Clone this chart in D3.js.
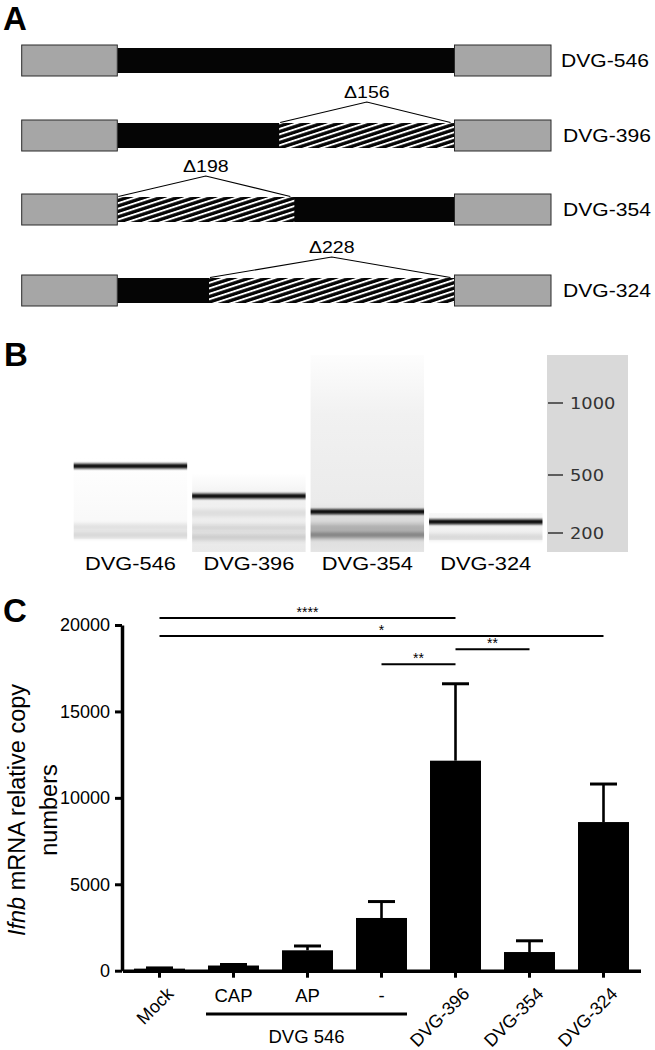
<!DOCTYPE html>
<html>
<head>
<meta charset="utf-8">
<script src="https://cdn.jsdelivr.net/npm/d3@7"></script>
<style>
html, body { margin: 0; padding: 0; background: #fff; }
svg { display: block; font-family: "Liberation Sans", Arial, sans-serif; }
</style>
</head>
<body>
<div id="fig"></div>
<script>
// panel A - DVG schematics
var dvgNames = ["DVG-546", "DVG-396", "DVG-354", "DVG-324"];
var delStart = [null, 0.48, 0, 0.272];     // deletion start, fraction of the insert
var delEnd = [null, 1, 0.525, 1];
var delLabels = ["", "\u0394156", "\u0394198", "\u0394228"];

// panel B - gel
var laneNames = ["DVG-546", "DVG-396", "DVG-354", "DVG-324"];
var ladderBp = [1000, 500, 200];
var mainBandBp = [562, 391, 310, 258];
var smearTopBp = [618, 514, 1333, 303];
var smearBottomBp = [169, 102, 102, 164];
var faintBandBp = [[231, 190], [303, 226, 179], [228, 190], [179]];
var faintBandAlpha = [[0.10, 0.14], [0.08, 0.10, 0.14], [0.22, 0.45], [0.10]];

// panel C - Ifnb
var groups = ["Mock", "CAP", "AP", "-", "DVG-396", "DVG-354", "DVG-324"];
var means = [120, 300, 1180, 3050, 12150, 1080, 8600];
var sems = [40, 60, 250, 950, 4450, 650, 2200];
var yTicks = [0, 5000, 10000, 15000, 20000];
var sigPairs = [["Mock", "DVG-396"], ["Mock", "DVG-324"], ["DVG-396", "DVG-354"], ["-", "DVG-396"]];
var sigLabels = ["****", "*", "**", "**"];
var sigLevel = [20400, 19370, 18600, 17730];
var rotated = ["Mock", "DVG-396", "DVG-354", "DVG-324"];
var dvg546Group = ["CAP", "AP", "-"];

var svg = d3.select("#fig").append("svg").attr("width", 655).attr("height", 1050);
var defs = svg.append("defs");

// text stretched sideways like in panels A and B
function wideText(sel, x, y, str, size, anchor, sx) {
    return sel.append("text")
        .attr("transform", "translate(" + x + "," + y + ") scale(" + (sx || 1.2) + ",1)")
        .attr("text-anchor", anchor || "start")
        .style("font-size", size + "px")
        .text(str);
}

function panelLetter(t, x, y) {
    svg.append("text").attr("x", x).attr("y", y)
        .style("font-size", "33px").style("font-weight", "bold").text(t);
}

panelLetter("A", 3, 30);
panelLetter("B", 4, 366);
panelLetter("C", 3, 622);

// ---------- A ----------
var pat = defs.append("pattern").attr("id", "hatch")
    .attr("patternUnits", "userSpaceOnUse")
    .attr("width", 12).attr("height", 5.2)
    .attr("patternTransform", "rotate(-18)");
pat.append("rect").attr("width", 12).attr("height", 5.2).attr("fill", "#050505");
pat.append("rect").attr("width", 12).attr("height", 1.9).attr("fill", "#fff");

var rowY = d3.scaleOrdinal().domain(dvgNames).range([45, 120, 194, 275]);
var insertX = d3.scaleLinear().domain([0, 1]).range([117.3, 454.5]);
var gA = svg.append("g");

dvgNames.forEach(function(name, i) {
    var top = rowY(name);
    var row = gA.append("g");
    row.append("rect").attr("x", insertX(0)).attr("y", top + 3)
        .attr("width", insertX(1) - insertX(0)).attr("height", 25).attr("fill", "#050505");
    if (delStart[i] !== null) {
        row.append("rect").attr("x", insertX(delStart[i])).attr("y", top + 3)
            .attr("width", insertX(delEnd[i]) - insertX(delStart[i])).attr("height", 25)
            .attr("fill", "url(#hatch)");
        var x0 = insertX(delStart[i]), x1 = insertX(delEnd[i]), mid = (x0 + x1) / 2;
        row.append("path")
            .attr("d", "M" + (x0 + 1) + "," + (top + 2.5) + "L" + mid + "," + (top - 18) + "L" + (x1 - 4) + "," + (top + 2.5))
            .attr("fill", "none").attr("stroke", "#000").attr("stroke-width", 1.2);
        wideText(row, mid, top - 22, delLabels[i], 17, "middle", 1.15);
    }
    [[21.7, insertX(0)], [insertX(1), 551]].forEach(function(b) {
        row.append("rect").attr("x", b[0]).attr("y", top).attr("width", b[1] - b[0]).attr("height", 31)
            .attr("fill", "#a6a6a6").attr("stroke", "#2a2a2a").attr("stroke-width", 1);
    });
    wideText(row, i === 0 ? 561 : 563, top + 22, name, 18.5, "start", 1.14);
});

// ---------- B ----------
var gelY = d3.scaleLinear().domain([1000, 500, 200]).range([403, 475, 533]);
var laneX = d3.scaleBand().domain(laneNames).range([73.7, 542.5]).paddingInner(0.042);
var gB = svg.append("g");

var blur = defs.append("filter").attr("id", "soft").attr("x", "-5%").attr("y", "-200%")
    .attr("width", "110%").attr("height", "500%");
blur.append("feGaussianBlur").attr("stdDeviation", "0 1.1");
var blur2 = defs.append("filter").attr("id", "softer").attr("x", "-5%").attr("y", "-200%")
    .attr("width", "110%").attr("height", "500%");
blur2.append("feGaussianBlur").attr("stdDeviation", "0 2");

var smearStops = [
    [["0", "#ffffff"], ["1", "#f7f7f7"]],
    [["0", "#ffffff"], ["0.3", "#f1f1f1"], ["1", "#e9e9e9"]],
    [["0", "#fdfdfd"], ["0.3", "#f1f1f1"], ["0.75", "#ebebeb"], ["0.85", "#d8d8d8"], ["1", "#e4e4e4"]],
    [["0", "#f7f7f7"], ["1", "#efefef"]]
];
smearStops.forEach(function(stops, i) {
    var lg = defs.append("linearGradient").attr("id", "smear" + i)
        .attr("x1", 0).attr("x2", 0).attr("y1", 0).attr("y2", 1);
    stops.forEach(function(s) { lg.append("stop").attr("offset", s[0]).attr("stop-color", s[1]); });
});

laneNames.forEach(function(name, i) {
    var lx = laneX(name), lw = laneX.bandwidth();
    gB.append("rect").attr("x", lx).attr("y", gelY(smearTopBp[i]))
        .attr("width", lw).attr("height", gelY(smearBottomBp[i]) - gelY(smearTopBp[i]))
        .attr("fill", "url(#smear" + i + ")");
    faintBandBp[i].forEach(function(bp, j) {
        gB.append("rect").attr("x", lx).attr("y", gelY(bp) - 3).attr("width", lw).attr("height", 6)
            .attr("fill", "#000").attr("opacity", faintBandAlpha[i][j]).attr("filter", "url(#softer)");
    });
    gB.append("rect").attr("x", lx).attr("y", gelY(mainBandBp[i]) - 2.5).attr("width", lw).attr("height", 5)
        .attr("fill", "#111").attr("filter", "url(#soft)");
    wideText(gB, lx + lw / 2, 570, name, 18.5, "middle", 1.18);
});

gB.append("rect").attr("x", 547).attr("y", 355).attr("width", 81).attr("height", 197).attr("fill", "#d9d9d9");
ladderBp.forEach(function(bp) {
    gB.append("line").attr("x1", 548).attr("x2", 563).attr("y1", gelY(bp)).attr("y2", gelY(bp))
        .attr("stroke", "#333").attr("stroke-width", 1.5);
    wideText(gB, 570, gelY(bp) + 5.5, bp, 15.5, "start", 1.15)
        .style("font-family", "'DejaVu Sans', Verdana, sans-serif")
        .attr("fill", "#333");
});

// ---------- C ----------
var y = d3.scaleLinear().domain([0, 20000]).range([970.7, 625]);
var x = d3.scaleBand().domain(groups).range([122.5, 640.5]).paddingInner(0.311).paddingOuter(0.1555);
var gC = svg.append("g");
var bw = x.bandwidth();

gC.selectAll(".bar").data(groups).enter().append("rect")
    .attr("class", "bar")
    .attr("x", function(d) { return x(d); })
    .attr("y", function(d, i) { return y(means[i]); })
    .attr("width", bw)
    .attr("height", function(d, i) { return y(0) - y(means[i]); })
    .attr("fill", "#000");

var err = gC.selectAll(".err").data(groups).enter().append("g").attr("class", "err");
err.append("line")
    .attr("x1", function(d) { return x(d) + bw / 2; })
    .attr("x2", function(d) { return x(d) + bw / 2; })
    .attr("y1", function(d, i) { return y(means[i]); })
    .attr("y2", function(d, i) { return y(means[i] + sems[i]); })
    .attr("stroke", "#000").attr("stroke-width", 2.6);
err.append("line")
    .attr("x1", function(d) { return x(d) + bw / 2 - 13.5; })
    .attr("x2", function(d) { return x(d) + bw / 2 + 13.5; })
    .attr("y1", function(d, i) { return y(means[i] + sems[i]); })
    .attr("y2", function(d, i) { return y(means[i] + sems[i]); })
    .attr("stroke", "#000").attr("stroke-width", 3);

var yAxis = gC.append("g").attr("transform", "translate(122,0)")
    .call(d3.axisLeft(y).tickValues(yTicks).tickSize(7).tickSizeOuter(0).tickPadding(5).tickFormat(d3.format("d")));
yAxis.select(".domain").attr("stroke-width", 3.5);
yAxis.selectAll(".tick line").attr("stroke-width", 3);
yAxis.selectAll(".tick text").style("font-size", "18px").style("font-family", "'Liberation Sans', Arial, sans-serif")
    .attr("fill", "#000");

var xAxis = gC.append("g").attr("transform", "translate(0," + y(0) + ")")
    .call(d3.axisBottom(x).tickSize(7).tickSizeOuter(0).tickFormat(""));
xAxis.select(".domain").attr("stroke-width", 3.5);
xAxis.selectAll(".tick line").attr("stroke-width", 3);

groups.forEach(function(g) {
    var cx = x(g) + bw / 2;
    if (rotated.indexOf(g) >= 0) {
        gC.append("text").attr("transform", "translate(" + (cx + 15) + ",995) rotate(-45)")
            .attr("text-anchor", "end").style("font-size", "18px").text(g);
    } else {
        gC.append("text").attr("x", cx).attr("y", 1002).attr("text-anchor", "middle")
            .style("font-size", "18.5px").text(g);
    }
});

var gx0 = x(dvg546Group[0]) - 2, gx1 = x(dvg546Group[dvg546Group.length - 1]) + bw;
gC.append("line").attr("x1", gx0).attr("x2", gx1).attr("y1", 1014).attr("y2", 1014)
    .attr("stroke", "#000").attr("stroke-width", 3);
gC.append("text").attr("x", (gx0 + gx1) / 2).attr("y", 1043).attr("text-anchor", "middle")
    .style("font-size", "18.5px").text("DVG 546");

// y label
var yl = gC.append("text").attr("transform", "translate(25,810) rotate(-90)")
    .attr("text-anchor", "middle").style("font-size", "23.5px");
yl.append("tspan").style("font-style", "italic").text("Ifnb");
yl.append("tspan").text(" mRNA relative copy");
gC.append("text").attr("transform", "translate(57,810) rotate(-90)")
    .attr("text-anchor", "middle").style("font-size", "23.5px").text("numbers");

// significance bars
sigPairs.forEach(function(p, i) {
    var a = x(p[0]) + bw / 2, b = x(p[1]) + bw / 2, yy = y(sigLevel[i]);
    gC.append("line").attr("x1", a).attr("x2", b).attr("y1", yy).attr("y2", yy)
        .attr("stroke", "#000").attr("stroke-width", 2);
    gC.append("text").attr("x", (a + b) / 2).attr("y", yy - 1).attr("text-anchor", "middle")
        .style("font-size", "14px").text(sigLabels[i]);
});
</script>
</body>
</html>
